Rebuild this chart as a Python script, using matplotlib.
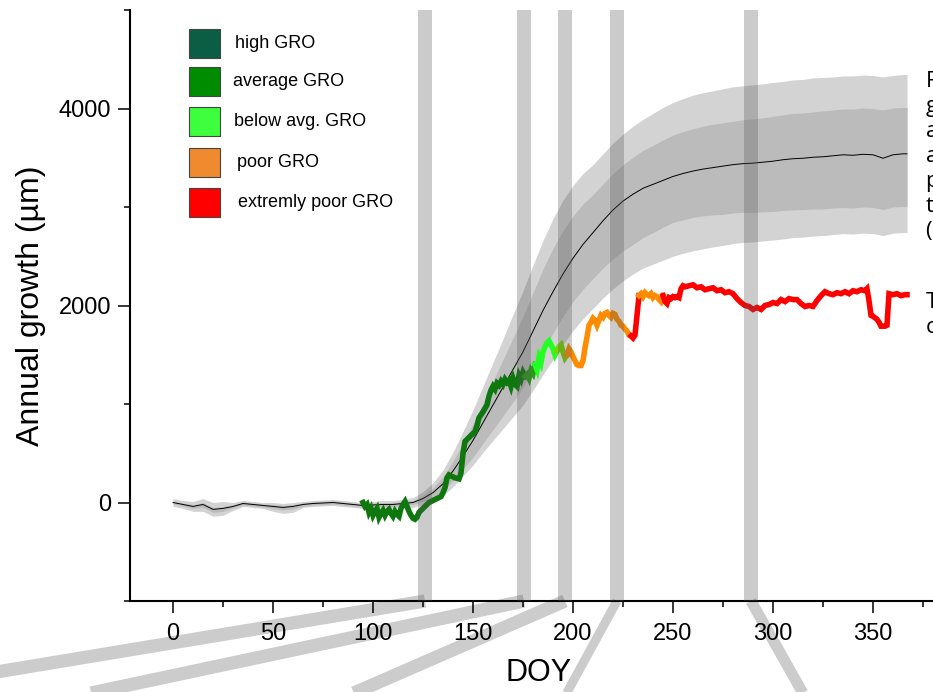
import numpy as np
import matplotlib
matplotlib.use("Agg")
import matplotlib.pyplot as plt
from matplotlib.lines import Line2D
from matplotlib.patches import Rectangle
from matplotlib.ticker import MultipleLocator

# =====================================================================================
# DATA
# =====================================================================================
# reference curve (all trees): mean and two percentile bands
ref_doy = [0, 5, 10, 15, 20, 25, 30, 35, 40, 45, 50, 55, 60, 65, 70, 75, 80, 85, 90, 95,
           100, 105, 110, 115, 120, 125, 130, 135, 140, 145, 150, 155, 160, 165, 170, 175,
           180, 185, 190, 195, 200, 205, 210, 215, 220, 225, 230, 235, 240, 245, 250, 255,
           260, 265, 270, 275, 280, 285, 290, 295, 300, 305, 310, 315, 320, 325, 330, 335,
           340, 345, 350, 355, 360, 365, 367]
ref_mean = [0, -20, -40, -20, -70, -60, -40, -10, -20, -30, -40, -50, -40, -20, -10, -5, 0, -10, -20, -30,
            -25, -20, -20, -10, 0, 40, 100, 190, 320, 470, 630, 810, 990, 1170, 1350, 1530,
            1740, 1950, 2140, 2320, 2480, 2620, 2740, 2860, 2970, 3060, 3130, 3190, 3230, 3270, 3310, 3340,
            3365, 3385, 3400, 3415, 3430, 3440, 3445, 3455, 3465, 3480, 3490, 3495, 3505, 3510, 3520, 3530,
            3525, 3535, 3530, 3495, 3530, 3540, 3540]
outer_hi = [40, 20, 10, 40, 0, 10, 0, 20, 10, 0, 0, -10, 0, 10, 20, 25, 30, 20, 10, 0,
            10, 20, 20, 30, 50, 110, 200, 330, 510, 720, 940, 1180, 1420, 1660, 1910, 2150,
            2410, 2660, 2880, 3070, 3220, 3340, 3430, 3540, 3650, 3740, 3820, 3890, 3950, 4010, 4060, 4100,
            4135, 4160, 4180, 4200, 4220, 4230, 4240, 4250, 4265, 4275, 4290, 4295, 4310, 4315, 4320, 4330,
            4330, 4340, 4335, 4320, 4335, 4345, 4345]
inner_hi = [15, -5, -20, 0, -50, -40, -25, 5, -5, -15, -20, -30, -20, -5, 5, 10, 15, 5, -5, -15,
            -10, 0, 0, 10, 20, 70, 150, 260, 420, 600, 800, 1010, 1230, 1450, 1670, 1890,
            2130, 2370, 2580, 2760, 2910, 3030, 3125, 3235, 3340, 3430, 3505, 3575, 3625, 3680, 3730, 3765,
            3795, 3820, 3840, 3855, 3870, 3885, 3895, 3905, 3920, 3935, 3950, 3955, 3965, 3975, 3985, 3995,
            3995, 4005, 4000, 3985, 4005, 4010, 4010]
inner_lo = [-15, -35, -60, -50, -100, -90, -55, -25, -35, -45, -60, -75, -65, -35, -25, -20, -15, -25, -35, -45,
            -40, -40, -40, -30, -20, 10, 50, 120, 220, 340, 460, 600, 740, 880, 1020, 1170,
            1350, 1540, 1720, 1890, 2040, 2165, 2275, 2380, 2475, 2555, 2620, 2690, 2740, 2795, 2845, 2870,
            2895, 2910, 2920, 2925, 2940, 2945, 2945, 2950, 2955, 2965, 2970, 2975, 2980, 2980, 2990, 2995,
            2990, 3000, 2995, 2975, 3000, 3005, 3005]
outer_lo = [-40, -60, -90, -90, -140, -130, -80, -40, -50, -60, -90, -110, -100, -50, -40, -35, -30, -40, -50, -60,
            -60, -60, -60, -50, -50, -20, 10, 70, 160, 270, 380, 510, 630, 750, 870, 990,
            1140, 1300, 1450, 1605, 1745, 1865, 1970, 2075, 2170, 2250, 2320, 2380, 2420, 2460, 2500, 2530,
            2555, 2575, 2595, 2610, 2630, 2640, 2645, 2655, 2665, 2675, 2690, 2695, 2705, 2710, 2720, 2730,
            2725, 2735, 2730, 2710, 2735, 2740, 2740]

# observed tree (cumulative growth)
obs_doy = [95, 96, 97, 98, 99, 100, 101, 102, 103, 104, 105, 106, 107, 108, 109, 110, 111, 112, 113, 114,
           115, 116, 117, 118, 119, 120, 121, 122, 123, 124, 125, 126, 127, 128, 130, 132, 134, 135, 136, 137,
           138, 139, 141, 143, 144, 145, 146, 147, 149, 151, 152, 153, 155, 157, 158, 159, 160, 161, 162, 163,
           164, 165, 166, 167, 168, 169, 170, 171, 172, 173, 174, 175, 176, 177, 178, 179, 180, 181, 182, 183,
           184, 185, 186, 187, 188, 189, 190, 191, 192, 193, 194, 195, 196, 197, 198, 199, 200, 201, 202, 203,
           204, 205, 206, 207, 208, 209, 210, 211, 212, 213, 214, 215, 216, 217, 218, 219, 220, 221, 222, 223,
           224, 225, 226, 227, 228, 229, 230, 231, 232, 233, 234, 235, 236, 237, 238, 239, 240, 241, 242, 243,
           244, 245, 246, 247, 248, 249, 250, 251, 252, 253, 254, 255, 256, 258, 260, 262, 264, 266, 268, 270,
           272, 274, 276, 278, 280, 282, 284, 286, 288, 290, 292, 294, 296, 298, 300, 302, 304, 306, 308, 310,
           312, 314, 316, 318, 320, 322, 324, 326, 328, 330, 332, 334, 336, 338, 340, 342, 344, 346, 347, 348,
           349, 350, 352, 353, 354, 356, 357, 358, 360, 362, 364, 366, 367]
obs_val = [0, -40, -20, -100, -60, -130, -90, -60, -150, -110, -80, -130, -90, -70, -110, -140, -90, -120, -140, -60,
           -20, 10, -40, -90, -130, -160, -170, -150, -100, -80, -60, -40, -20, 0, 20, 40, 60, 100, 150, 250,
           280, 270, 250, 240, 300, 500, 620, 640, 680, 720, 780, 860, 920, 990, 1080, 1140, 1180, 1150, 1210, 1190,
           1230, 1200, 1250, 1220, 1240, 1180, 1260, 1200, 1180, 1290, 1250, 1320, 1280, 1300, 1260, 1340, 1310, 1400, 1350, 1470,
           1420, 1530, 1580, 1620, 1640, 1600, 1560, 1500, 1540, 1580, 1600, 1530, 1470, 1500, 1560, 1530, 1480, 1440, 1400, 1390,
           1390, 1440, 1570, 1680, 1800, 1830, 1870, 1850, 1800, 1850, 1900, 1880, 1920, 1930, 1900, 1880, 1920, 1910, 1860, 1840,
           1800, 1790, 1760, 1740, 1700, 1690, 1670, 1700, 1900, 2100, 2120, 2090, 2130, 2110, 2100, 2120, 2080, 2100, 2090, 2060,
           2040, 2100, 2040, 2020, 2080, 2070, 2090, 2080, 2090, 2080, 2170, 2200, 2190, 2200, 2210, 2180, 2190, 2160, 2170, 2180,
           2150, 2160, 2130, 2140, 2120, 2070, 2030, 2000, 1990, 1960, 1980, 1960, 2000, 2010, 2030, 2020, 2060, 2040, 2070, 2060,
           2060, 2020, 1990, 2000, 1990, 2050, 2100, 2140, 2120, 2110, 2130, 2120, 2140, 2120, 2150, 2140, 2160, 2150, 2170, 2050,
           1900, 1890, 1860, 1830, 1790, 1790, 1800, 2120, 2110, 2120, 2100, 2110, 2110]

# growth class of the observed tree: DOY where each class segment ends, and its colour
gro_end = [176, 181, 192, 197, 229, 233, 245, 367]
gro_color = ["#0e780e", "#2a9a1a", "#22ff22", "#77d400", "#ff8c00", "#ff0000", "#ff8c00", "#ff0000"]

# highlighted days
bar_doy = [126, 175.5, 196, 222, 289]

legend_labels = ["high GRO", "average GRO", "below avg. GRO", "poor GRO", "extremly poor GRO"]
legend_colors = ["#0b5e44", "#008c00", "#3dff3d", "#f08a2e", "#ff0000"]

# =====================================================================================
# FIGURE
# =====================================================================================
W, H = 933, 692
fig = plt.figure(figsize=(W / 100, H / 100), dpi=100)
plt.rcParams["font.family"] = ["Liberation Sans", "DejaVu Sans"]


def fx(px):
    return px / W


def fy(py):
    return 1 - py / H


# axes: left spine at x=130, bottom at y=601, top at y=10 ; right side runs off the picture
ax = fig.add_axes([fx(130), fy(601), fx(947 - 130), (601 - 10) / H])
ax.patch.set_visible(False)
ax.set_xlim(-21.5, 387)
ax.set_ylim(-1000, 5000)

ax.fill_between(ref_doy, outer_lo, outer_hi, color="#d3d3d3", lw=0, zorder=1)
ax.fill_between(ref_doy, inner_lo, inner_hi, color="#bbbbbb", lw=0, zorder=1.5)
ax.plot(ref_doy, ref_mean, color="black", lw=0.7, zorder=2)

# observed tree, coloured by growth class
doy = np.array(obs_doy)
val = np.array(obs_val)
start = doy[0]
for end, col in zip(gro_end, gro_color):
    m = (doy >= start) & (doy <= end)
    ax.plot(doy[m], val[m], color=col, lw=4.0, zorder=3, solid_joinstyle="miter")
    start = end

for d in bar_doy:
    ax.axvspan(d - 3.5, d + 3.5, color="#555555", alpha=0.3, lw=0, zorder=5)

for s in ["top", "right"]:
    ax.spines[s].set_visible(False)
for s in ["left", "bottom"]:
    ax.spines[s].set_linewidth(1.5)

ax.xaxis.set_major_locator(MultipleLocator(50))
ax.xaxis.set_minor_locator(MultipleLocator(25))
ax.yaxis.set_major_locator(MultipleLocator(2000))
ax.yaxis.set_minor_locator(MultipleLocator(1000))
ax.tick_params(which="major", direction="out", length=8.5, width=1.1, labelsize=17)
ax.tick_params(which="minor", direction="out", length=4.3, width=1.1)
ax.tick_params(axis="x", pad=7)
ax.tick_params(axis="y", pad=5)

ax.set_xlabel("DOY", fontsize=22, labelpad=10)
ax.set_ylabel("Annual growth (µm)", fontsize=23, labelpad=9)

# connectors from the bars down to panels below (off picture)
conn_end = [(-100, 688), (-36, 720), (292, 720), (552, 720), (818, 720)]
conn_lw = [9.5, 9.5, 9.5, 6.5, 8.0]
fig.canvas.draw()
for d, (ex, ey), lw in zip(bar_doy, conn_end, conn_lw):
    sx, sy = ax.transData.transform((d, -1000))
    fig.add_artist(Line2D([sx / W, fx(ex)], [sy / H, fy(ey)], transform=fig.transFigure,
                          color="#cccccc", lw=lw, solid_capstyle="butt", zorder=-1))

# legend
leg_box_y = [29, 67, 107, 148, 188]
leg_text_x = [235, 233, 234, 237, 238]
for lab, col, y0, tx in zip(legend_labels, legend_colors, leg_box_y, leg_text_x):
    fig.add_artist(Rectangle((fx(189), fy(y0 + 29)), fx(31), 29 / H, transform=fig.transFigure,
                             facecolor=col, edgecolor="#444444", lw=0.8, zorder=6))
    fig.text(fx(tx), fy(y0 + 14.5), lab, fontsize=13, va="center", ha="left")

# side notes (cut by the picture edge)
note1 = ["Reference: mean", "growth curve of", "all trees (line)", "and the 25-75 %",
         "percentile range,", "the 5-95 % range", "(light grey)"]
note2 = ["Tree shown in", "colours of GRO"]
for i, t in enumerate(note1):
    fig.text(fx(926), fy(87 + 25 * i), t, fontsize=16, family="Open Sans", va="baseline")
for i, t in enumerate(note2):
    fig.text(fx(926), fy(308 + 25 * i), t, fontsize=16, family="Open Sans", va="baseline")

fig.savefig("out.png", dpi=100)
